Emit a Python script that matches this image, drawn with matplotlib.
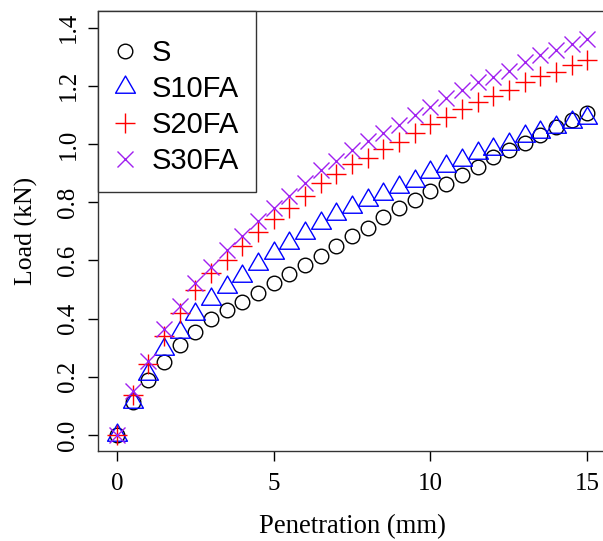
import numpy as np
import matplotlib
matplotlib.use('Agg')
import matplotlib.pyplot as plt
from matplotlib.path import Path
from matplotlib.patches import Rectangle

# penetration readings (mm) and load (kN) for each mix
penetration = [0.0, 0.5, 1.0, 1.5, 2.0, 2.5, 3.0, 3.5, 4.0, 4.5, 5.0, 5.5, 6.0, 6.5, 7.0, 7.5,
               8.0, 8.5, 9.0, 9.5, 10.0, 10.5, 11.0, 11.5, 12.0, 12.5, 13.0, 13.5, 14.0, 14.5, 15.0]
load_s = [0.000, 0.113, 0.188, 0.251, 0.311, 0.355, 0.397, 0.431, 0.458, 0.489, 0.524,
          0.553, 0.584, 0.616, 0.649, 0.685, 0.712, 0.748, 0.779, 0.808, 0.838,
          0.863, 0.893, 0.922, 0.954, 0.979, 1.005, 1.031, 1.058, 1.082, 1.105]
load_s10fa = [0.000, 0.114, 0.208, 0.295, 0.354, 0.416, 0.466, 0.508, 0.547, 0.589, 0.624,
              0.661, 0.694, 0.730, 0.758, 0.784, 0.806, 0.829, 0.851, 0.874, 0.904,
              0.923, 0.945, 0.968, 0.984, 1.001, 1.026, 1.042, 1.057, 1.075, 1.089]
load_s20fa = [0.000, 0.136, 0.244, 0.340, 0.420, 0.497, 0.555, 0.603, 0.650, 0.696, 0.741,
              0.781, 0.822, 0.865, 0.898, 0.931, 0.953, 0.982, 1.008, 1.037, 1.069,
              1.092, 1.120, 1.145, 1.166, 1.187, 1.212, 1.232, 1.249, 1.271, 1.289]
load_s30fa = [0.000, 0.150, 0.255, 0.365, 0.442, 0.523, 0.578, 0.635, 0.683, 0.735, 0.779,
              0.822, 0.865, 0.911, 0.943, 0.978, 1.011, 1.039, 1.065, 1.100, 1.128,
              1.157, 1.185, 1.212, 1.230, 1.252, 1.281, 1.306, 1.322, 1.344, 1.360]
labels = ['S', 'S10FA', 'S20FA', 'S30FA']
x_ticks = [0, 5, 10, 15]
y_ticks = [0.0, 0.2, 0.4, 0.6, 0.8, 1.0, 1.2, 1.4]

# open triangle centred on its centroid, like R's pch = 2
tri = Path([(0, 1.5551), (1.3468, -0.7776), (-1.3468, -0.7776), (0, 1.5551)],
           [Path.MOVETO, Path.LINETO, Path.LINETO, Path.CLOSEPOLY])

serif = 'Liberation Serif'
sans = 'Liberation Sans'

fig = plt.figure(figsize=(6.03, 5.41), dpi=100)
ax = fig.add_axes([0.1629, 0.1658, 0.8421, 0.8133])

styles = [
    (load_s, dict(marker='o', color='black', ms=10.5, mfc='none', mew=1.0)),
    (load_s10fa, dict(marker=tri, color='blue', ms=16.5, mfc='none', mew=1.0)),
    (load_s20fa, dict(marker='+', color='red', ms=14.5, mew=1.0)),
    (load_s30fa, dict(marker='x', color='#A020F0', ms=12, mew=1.0)),
]
for (y, kw), lab in zip(styles, labels):
    ax.plot(penetration, y, ls='none', label=lab, **kw)

ax.set_xlim(-0.6, 15.6)
ax.set_ylim(-0.056, 1.456)
ax.set_xticks(x_ticks)
ax.set_xticklabels([str(t) for t in x_ticks])
ax.set_yticks(y_ticks)
ax.set_yticklabels([f'{t:.1f}' for t in y_ticks], rotation=90, va='center')
for lbl in ax.get_xticklabels() + ax.get_yticklabels():
    lbl.set_fontfamily(serif)
    lbl.set_fontsize(18)
ax.tick_params(length=7.5, width=1, color='black')
ax.tick_params(axis='x', pad=8)
ax.tick_params(axis='y', pad=6)
for sp in ax.spines.values():
    sp.set_linewidth(1)
    sp.set_color('#333333')

ax.set_xlabel('Penetration (mm)', fontfamily=serif, fontsize=19.2, labelpad=14)
ax.set_ylabel('Load (kN)', fontfamily=serif, fontsize=18.5, labelpad=14)

# legend box in the top-left corner, drawn in axes coordinates
axh = 440.0
ax.add_patch(Rectangle((0, 1 - 0.4107), 0.3108, 0.4107, transform=ax.transAxes,
                       facecolor='white', edgecolor='#333333', lw=1, zorder=5,
                       clip_on=False))
row_px = [50.5, 86.5, 122.5, 158.5]
for (y, kw), lab, rp in zip(styles, labels, row_px):
    yc = (451.3 - rp) / axh
    ax.plot([0.0528], [yc], ls='none', transform=ax.transAxes, clip_on=False,
            zorder=6, **kw)
    ax.text(0.1059, yc - 10.4 / axh, lab, transform=ax.transAxes, va='baseline',
            ha='left', fontfamily=sans, fontsize=21, zorder=6)

fig.savefig('out.png', dpi=100)
